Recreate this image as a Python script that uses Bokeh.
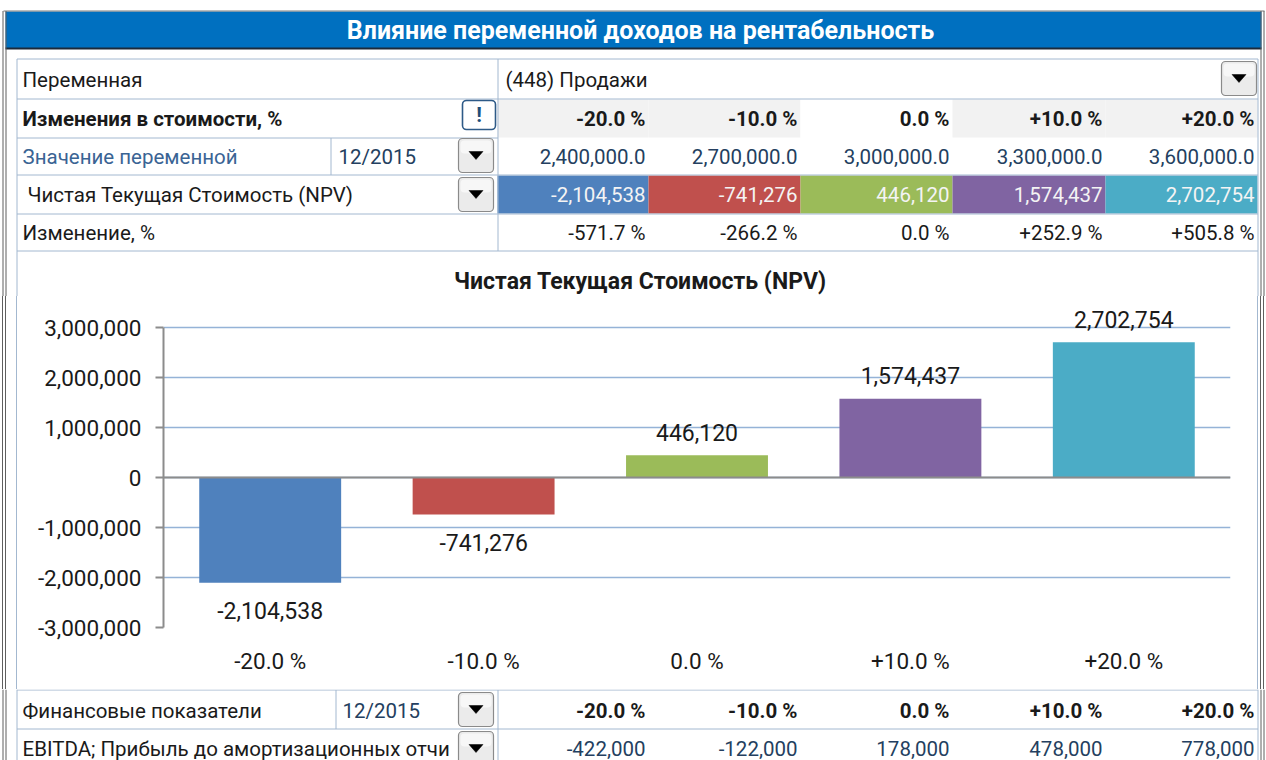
from bokeh.plotting import figure
from bokeh.layouts import column, row
from bokeh.models import (Range1d, FactorRange, ColumnDataSource, LabelSet, Span,
                          FixedTicker, NumeralTickFormatter, Quad, Div)
from bokeh.core.properties import value
from bokeh.embed import file_html
from bokeh.resources import INLINE

# ---------------- data ----------------
TITLE = "Влияние переменной доходов на рентабельность"
VARIABLE_LABEL = "Переменная"
VARIABLE_NAME = "(448) Продажи"
CHANGE_LABEL = "Изменения в стоимости, %"
VALUE_LABEL = "Значение переменной"
PERIOD = "12/2015"
METRIC = "Чистая Текущая Стоимость (NPV)"
DELTA_LABEL = "Изменение, %"
FIN_LABEL = "Финансовые показатели"
FIN_METRIC = "EBITDA; Прибыль до амортизационных отчи"

scenarios = ["-20.0 %", "-10.0 %", "0.0 %", "+10.0 %", "+20.0 %"]
variable_values = [2400000.0, 2700000.0, 3000000.0, 3300000.0, 3600000.0]
npv = [-2104538, -741276, 446120, 1574437, 2702754]
npv_change_pct = [-571.7, -266.2, 0.0, 252.9, 505.8]
ebitda = [-422000, -122000, 178000, 478000, 778000]
y_ticks = [-3000000, -2000000, -1000000, 0, 1000000, 2000000, 3000000]

# ---------------- style ----------------
bar_colors = ["#4F81BD", "#C0504D", "#9BBB59", "#8064A2", "#4BACC6"]
header_fill = ["#F2F2F2", "#F2F2F2", "#FFFFFF", "#F2F2F2", "#F2F2F2"]
FONT = "Roboto"
LINE = "#A3B8D0"
FRAME = "#5F5F5F"
TXT = "#1A1A1A"
BLUE_TXT = "#3A6494"
NAVY_TXT = "#243F60"
ROW_FS = "20.5px"
col_edges = [497, 648, 800, 952, 1105, 1257]
RADIUS = {"border_radius": 4} if "border_radius" in Quad.properties() else {}


def fmt_pct(v):
    return "0.0 %" if v == 0 else f"{v:+.1f} %"


def canvas(w, h, x0, x1, y0, y1):
    p = figure(width=w, height=h, x_range=Range1d(x0, x1), y_range=Range1d(y1, y0),
               toolbar_location=None, output_backend="svg", title=None,
               x_axis_location=None, y_axis_location=None, min_border=0,
               outline_line_color=None, background_fill_color="white",
               border_fill_color="white")
    p.xgrid.visible = False
    p.ygrid.visible = False
    return p


def txt(p, x, y, s, size=ROW_FS, color=TXT, align="left", bold=False):
    p.text(x=[x], y=[y], text=[s], text_font=value(FONT), text_font_size=size,
           text_color=color, text_align=align, text_baseline="middle",
           text_font_style="bold" if bold else "normal")


def lines(p, segs, color=LINE, width=1):
    p.segment(x0=[s[0] for s in segs], y0=[s[1] for s in segs],
              x1=[s[2] for s in segs], y1=[s[3] for s in segs],
              line_color=color, line_width=width)


def window_sides(p, y0, y1):
    lines(p, [(2.5, y0, 2.5, y1), (5.5, y0, 5.5, y1),
              (1260.5, y0, 1260.5, y1), (1263.5, y0, 1263.5, y1)], color=FRAME)


def dropdown(p, l, t):
    p.quad(left=[l], right=[l + 35], top=[t], bottom=[t + 34], fill_color="#EBEBEB",
           line_color="#8A8A8A", line_width=1.2, **RADIUS)
    p.quad(left=[l + 2], right=[l + 33], top=[t + 2], bottom=[t + 15], fill_color="#F7F7F7",
           line_color=None, **RADIUS)
    cx, cy = l + 17.5, t + 17
    p.patches(xs=[[cx - 7, cx + 7, cx]], ys=[[cy - 4, cy - 4, cy + 4]],
              fill_color="black", line_color="black", line_width=0.5)


def strip(width, h, xs_colors):
    parts = "".join(
        f'<line x1="{x}" y1="0" x2="{x}" y2="{h}" stroke="{c}" stroke-width="1"/>'
        for x, c in xs_colors)
    svg = (f'<svg xmlns="http://www.w3.org/2000/svg" width="{width}" height="{h}" '
           f'style="display:block">{parts}</svg>')
    return Div(text=svg, width=width, height=h, margin=0,
               styles={"overflow": "hidden", "background": "white"})


# ---------------- top part (reference pixel coordinates) ----------------
top = canvas(1266, 296, 0, 1266, 0, 296)
top.quad(left=[5], right=[1261], top=[11], bottom=[48], fill_color="#0070C0",
         line_color=None)
lines(top, [(3, 10.5, 1264, 10.5)], color="#7A7A7A", width=1)
lines(top, [(5, 48, 1261, 48)], color="#1C2A3A", width=2)
window_sides(top, 10.5, 296)
txt(top, 640, 30, TITLE, size="25px", color="white", align="center", bold=True)

# header shading and coloured NPV cells
top.quad(left=col_edges[:-1], right=col_edges[1:], top=[99] * 5, bottom=[137] * 5,
         fill_color=header_fill, line_color=None)
top.quad(left=col_edges[:-1], right=col_edges[1:], top=[175] * 5, bottom=[213] * 5,
         fill_color=bar_colors, line_color=None)

lines(top, [
    (16.5, 58.5, 1257.5, 58.5), (16.5, 98.5, 1257.5, 98.5), (16.5, 137.5, 497.5, 137.5),
    (16.5, 174.5, 1257.5, 174.5), (16.5, 213.5, 1257.5, 213.5), (16.5, 250.5, 1257.5, 250.5),
    (16.5, 58.5, 16.5, 296), (1257.5, 58.5, 1257.5, 296), (497.5, 58.5, 497.5, 250.5),
    (330.5, 137.5, 330.5, 174.5),
])

# row 1
txt(top, 22, 79, VARIABLE_LABEL)
txt(top, 505, 79, VARIABLE_NAME)
dropdown(top, 1221, 61)
# row 2
txt(top, 22, 118, CHANGE_LABEL, bold=True)
top.quad(left=[462], right=[495], top=[100], bottom=[129], fill_color="white",
         line_color="#2E5A87", line_width=1.6, **RADIUS)
txt(top, 478.5, 114.5, "!", size="21px", color="#1F4E79", align="center", bold=True)
# row 3
txt(top, 22, 156, VALUE_LABEL, color=BLUE_TXT)
txt(top, 338, 156, PERIOD, color=NAVY_TXT)
dropdown(top, 458, 138)
# row 4
txt(top, 27, 194, METRIC)
dropdown(top, 458, 177)
# row 5
txt(top, 22, 232, DELTA_LABEL)

for i in range(5):
    xr = col_edges[i + 1] - 3
    txt(top, xr, 118, scenarios[i], align="right", bold=True)
    txt(top, xr, 156, f"{variable_values[i]:,.1f}", color=NAVY_TXT, align="right")
    txt(top, xr, 194, f"{npv[i]:,}", color="#F4F4F4", align="right")
    txt(top, xr, 232, fmt_pct(npv_change_pct[i]), align="right")

txt(top, 640, 281, METRIC, size="23px", align="center", bold=True)

# ---------------- chart ----------------
src = ColumnDataSource(dict(
    cat=scenarios, npv=npv, color=bar_colors,
    label=[f"{v:,}" for v in npv],
    yoff=[23 if v >= 0 else -28 for v in npv],
))

chart = figure(width=1234, height=393, x_range=FactorRange(*scenarios),
               y_range=Range1d(-3000000, 3500000), toolbar_location=None,
               output_backend="svg", title=None, min_border_left=143,
               min_border_right=24, min_border_top=6, min_border_bottom=62,
               outline_line_color=None, background_fill_color="white",
               border_fill_color="white")
chart.xgrid.grid_line_color = None
chart.ygrid.grid_line_color = "#95B3D7"
chart.ygrid.grid_line_width = 1.5
chart.ygrid.ticker = FixedTicker(ticks=y_ticks)

chart.vbar(x="cat", top="npv", width=0.665, fill_color="color", line_color=None,
           source=src)
chart.add_layout(Span(location=0, dimension="width", line_color="#8C8C8C",
                      line_width=2))

chart.yaxis.ticker = FixedTicker(ticks=y_ticks)
chart.yaxis.bounds = (y_ticks[0], y_ticks[-1])
chart.yaxis.formatter = NumeralTickFormatter(format="0,0")
chart.yaxis.axis_line_color = "#8C8C8C"
chart.yaxis.axis_line_width = 2
chart.yaxis.major_tick_line_color = "#8C8C8C"
chart.yaxis.major_tick_line_width = 2
chart.yaxis.major_tick_out = 8
chart.yaxis.major_tick_in = 0
chart.yaxis.minor_tick_line_color = None
chart.yaxis.major_label_standoff = 14
chart.yaxis.major_label_text_font = FONT
chart.yaxis.major_label_text_font_size = "22.5px"
chart.yaxis.major_label_text_color = TXT

chart.xaxis.axis_line_color = None
chart.xaxis.major_tick_line_color = None
chart.xaxis.minor_tick_line_color = None
chart.xaxis.major_label_standoff = 14
chart.xaxis.major_label_text_font = FONT
chart.xaxis.major_label_text_font_size = "22.5px"
chart.xaxis.major_label_text_color = TXT

chart.add_layout(LabelSet(x="cat", y="npv", text="label", y_offset="yoff",
                          text_align="center", text_baseline="middle", source=src,
                          text_font=value(FONT), text_font_size="23px",
                          text_color=TXT))

# side strips of the chart panel (window frame + panel border)
left_strip = strip(20, 393, [(2.5, FRAME), (5.5, FRAME), (16.5, LINE)])
right_strip = strip(12, 393, [(3.5, LINE), (6.5, FRAME), (9.5, FRAME)])

# ---------------- bottom part ----------------
bottom = canvas(1266, 71, 0, 1266, 689, 760)
window_sides(bottom, 689, 760)
lines(bottom, [
    (16.5, 689.5, 1257.5, 689.5), (16.5, 728.5, 1257.5, 728.5),
    (16.5, 689, 16.5, 760), (1257.5, 689, 1257.5, 760), (497.5, 689.5, 497.5, 760),
    (335.5, 689.5, 335.5, 728.5),
])
txt(bottom, 22, 710, FIN_LABEL)
txt(bottom, 342, 710, PERIOD, color=NAVY_TXT)
dropdown(bottom, 458, 692)
txt(bottom, 22, 748, FIN_METRIC)
dropdown(bottom, 458, 731)
for i in range(5):
    xr = col_edges[i + 1] - 3
    txt(bottom, xr, 710, scenarios[i], align="right", bold=True)
    txt(bottom, xr, 748, f"{ebitda[i]:,}", color=NAVY_TXT, align="right")

layout = column(top, row(left_strip, chart, right_strip), bottom)
open("out.html", "w").write(file_html(layout, INLINE))
